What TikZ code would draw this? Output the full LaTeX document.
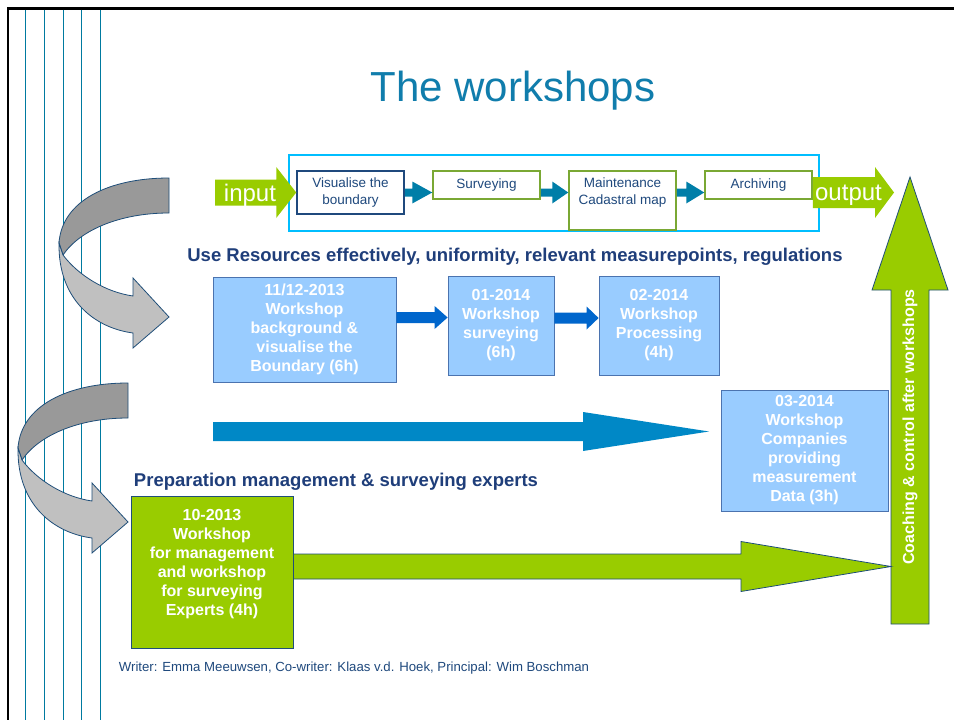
\documentclass[tikz,border=0pt]{standalone}
\usepackage{fontspec}
\setmainfont{Liberation Sans}
\usetikzlibrary{calc}
\definecolor{titleblue}{RGB}{16,125,172}
\definecolor{navy}{RGB}{31,62,122}
\definecolor{lineblue}{RGB}{0,122,160}
\definecolor{cyanframe}{RGB}{0,190,255}
\definecolor{boxblue}{RGB}{153,204,255}
\definecolor{boxedge}{RGB}{75,115,175}
\definecolor{darkarrow}{RGB}{0,102,204}
\definecolor{tealarrow}{RGB}{0,136,198}
\definecolor{smallarrow}{RGB}{0,126,168}
\definecolor{lgreen}{RGB}{153,204,0}
\definecolor{olive}{RGB}{122,168,52}
\definecolor{boxnavy}{RGB}{31,73,125}
\definecolor{ribdark}{RGB}{153,153,153}
\definecolor{riblight}{RGB}{192,192,192}
\definecolor{ribedge}{RGB}{31,78,121}
\newcommand\boldtxt{\fontsize{16}{19}\selectfont\bfseries}
\newcommand\headtxt{\fontsize{18.5}{22}\selectfont\bfseries}
\newcommand\proctxt{\fontsize{13.5}{17}\selectfont}
\newcommand\blockarr[6]{%
  \path[#1] let \p1=(#2), \p2=(#3) in
   (\x1,\y1+#4) -- (\x2-#6,\y1+#4) -- (\x2-#6,\y1+#5) -- (\x2,\y1)
   -- (\x2-#6,\y1-#5) -- (\x2-#6,\y1-#4) -- (\x1,\y1-#4) -- cycle;}
\tikzset{
  procbox/.style={draw=olive, line width=1.5pt, fill=white, inner sep=0pt,
    text=boxnavy, font=\proctxt, align=center, minimum width=107pt},
  wsbox/.style={draw=boxedge, fill=boxblue, line width=0.8pt, text=white,
    font=\boldtxt, align=center, inner sep=0pt},
  heading/.style={text=navy, font=\headtxt, inner sep=0pt},
  curvearr/.pic={
    \filldraw[fill=ribdark, draw=ribedge, line width=0.8pt]
      (169,178) .. controls (110,178) and (62,200) .. (59,243) -- (63,255)
      .. controls (80,230) and (120,213) .. (169,213) -- cycle;
    \filldraw[fill=riblight, draw=ribedge, line width=0.8pt]
      (59,243) .. controls (58,300) and (95,328) .. (133,333) -- (133,348)
      -- (169,317) -- (133,278) -- (133,296)
      .. controls (105,292) and (78,275) .. (63,255) -- cycle;
  }
}
\begin{document}
\begin{tikzpicture}[x=1pt,y=-1pt]
\useasboundingbox (0,0) rectangle (954,720);
\fill[white] (0,0) rectangle (954,720);
% page frame and margin lines
\draw[line width=2.5pt] (8,720) -- (8,8.5) -- (954,8.5);
\foreach \xx in {25,44,63,81,100} \draw[lineblue, line width=0.9pt] (\xx,9.5) -- (\xx,720);
% title
\node[font=\fontsize{42}{48}\selectfont, text=titleblue] (title) at (513,91) {The workshops};
% top process
\node[draw=cyanframe, line width=2pt, minimum width=530pt, minimum height=76pt] (proc) at (554,193) {};
\node[procbox, draw=boxnavy, minimum height=43pt] (vis) at (350.5,192.5) {Visualise the\\boundary};
\node[procbox, minimum height=28pt] (surv) at (486.5,185) {Surveying};
\node[procbox, minimum height=59pt] (maint) at (622.5,200.5) {};
\node[text=boxnavy, font=\proctxt, align=center, inner sep=0pt] (mainttxt) at (622.5,192.5) {Maintenance\\Cadastral map};
\node[procbox, minimum height=28pt] (arch) at (758.5,185) {Archiving};
\coordinate (inS) at (215,192.5);
\coordinate (outE) at (894,192.5);
\blockarr{fill=lgreen}{inS}{vis.west}{13pt}{25.5pt}{20pt}
\blockarr{fill=lgreen}{arch.east |- vis.east}{outE}{15.5pt}{25.5pt}{19pt}
\blockarr{fill=smallarrow}{vis.east}{surv.west}{4pt}{11pt}{20pt}
\blockarr{fill=smallarrow}{surv.east |- vis.east}{maint.west}{4pt}{11pt}{16pt}
\blockarr{fill=smallarrow}{maint.east |- vis.east}{arch.west}{4pt}{11pt}{18pt}
\node[font=\fontsize{24}{28}\selectfont, text=white, inner sep=0pt] (inlbl) at (250,195) {input};
\node[font=\fontsize{24}{28}\selectfont, text=white, inner sep=0pt] (outlbl) at (848.5,195) {output};
% heading 1
\node[heading] (h1) at (515,256.5) {Use Resources effectively, uniformity, relevant measurepoints, regulations};
% blue workshop boxes
\node[wsbox, minimum width=183pt, minimum height=105pt] (b1) at (304.5,329.5) {11/12-2013\\Workshop\\background \&\\visualise the\\Boundary (6h)};
\node[wsbox, minimum width=106pt, minimum height=99pt] (b2) at (501,325.5) {01-2014\\Workshop\\surveying\\(6h)};
\node[wsbox, minimum width=120pt, minimum height=99pt] (b3) at (659,325.5) {02-2014\\Workshop\\Processing\\(4h)};
\blockarr{fill=darkarrow}{$(b1.east)+(0,-12)$}{b2.west}{5.5pt}{11.5pt}{13pt}
\blockarr{fill=darkarrow}{$(b2.east)+(0,-7.5)$}{b3.west}{5.5pt}{11.5pt}{12pt}
\node[wsbox, minimum width=167pt, minimum height=121pt] (b4) at (804.5,450.5) {03-2014\\Workshop\\Companies\\providing\\measurement\\Data (3h)};
\coordinate (tealS) at (213,431.5);
\coordinate (tealE) at (709,431.5);
\blockarr{fill=tealarrow}{tealS}{tealE}{9.5pt}{19.5pt}{126pt}
% heading 2
\node[heading] (h2) at (336,482) {Preparation management \& surveying experts};
% green box
\node[draw=ribedge, fill=lgreen, line width=0.8pt, minimum width=162pt, minimum height=152pt, inner sep=0pt] (g1) at (212,572) {};
\node[text=white, font=\boldtxt, align=center, inner sep=0pt] (g1txt) at (212,564) {10-2013\\Workshop\\for management\\and workshop\\for surveying\\Experts (4h)};
% vertical arrow
\filldraw[fill=lgreen, draw=ribedge, line width=0.8pt] (891,624) -- (891,290) -- (872,290) -- (910,177) -- (948,290) -- (929,290) -- (929,624) -- cycle;
\node[rotate=90, text=white, font=\boldtxt, inner sep=0pt] (coach) at (910,427) {Coaching \& control after workshops};
\coordinate (vbody) at (891,566.5);
\blockarr{fill=lgreen, draw=ribedge, line width=0.8pt}{$(g1.east)+(0,-5.5)$}{vbody}{12.5pt}{25pt}{150pt}
% curved arrows
\pic at (0,0) {curvearr};
\pic at (-41,205) {curvearr};
% footer
\node[text=boxnavy, font=\fontsize{13.2}{16}\selectfont, inner sep=0pt] (foot) at (354,668) {Writer: Emma Meeuwsen, Co-writer: Klaas v.d. Hoek, Principal: Wim Boschman};
\end{tikzpicture}
\end{document}
